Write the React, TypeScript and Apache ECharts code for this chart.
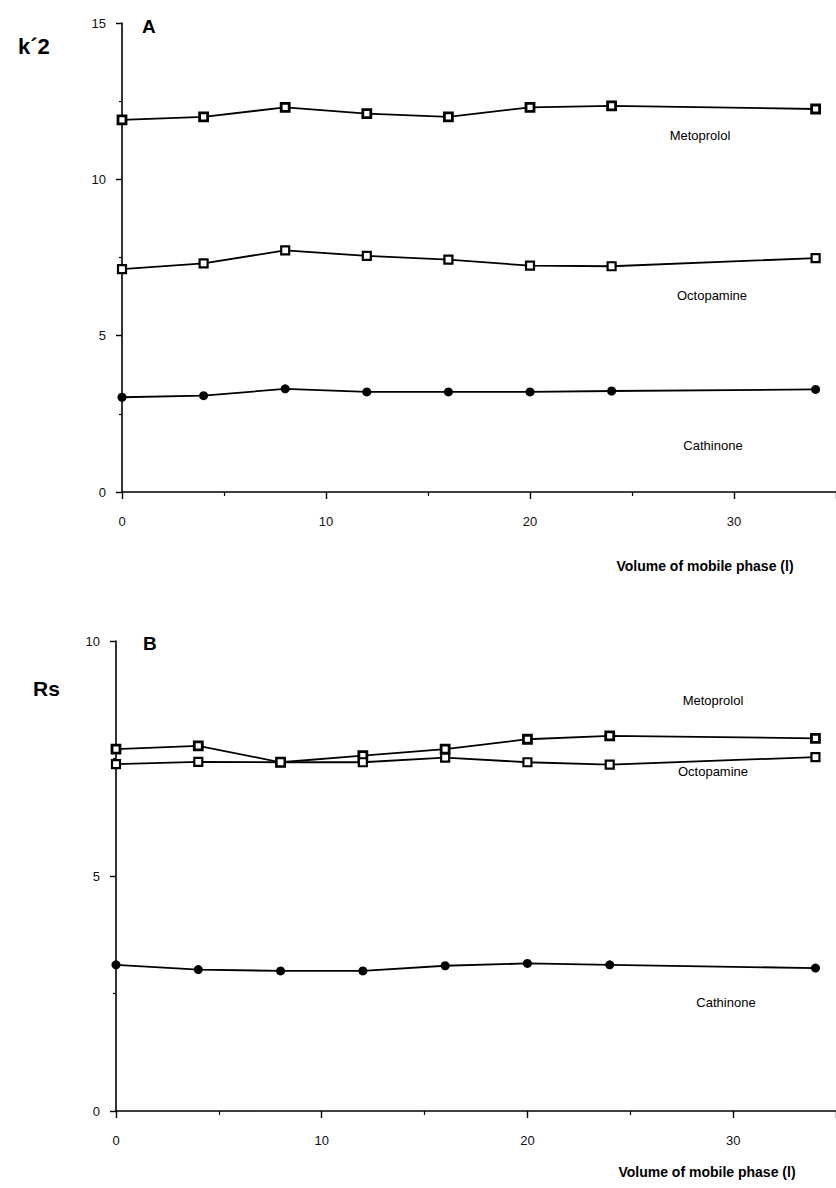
import React, { useEffect, useRef } from "react";
import * as echarts from "echarts";

const volumes = [0, 4, 8, 12, 16, 20, 24, 34];
const kMetoprolol = [11.9, 12.0, 12.3, 12.1, 12.0, 12.3, 12.35, 12.25];
const kOctopamine = [7.13, 7.31, 7.73, 7.55, 7.43, 7.24, 7.22, 7.48];
const kCathinone = [3.03, 3.08, 3.3, 3.2, 3.2, 3.2, 3.23, 3.28];
const rsMetoprolol = [7.7, 7.77, 7.42, 7.56, 7.7, 7.91, 7.98, 7.93];
const rsOctopamine = [7.38, 7.43, 7.42, 7.42, 7.52, 7.42, 7.37, 7.53];
const rsCathinone = [3.11, 3.01, 2.98, 2.98, 3.09, 3.14, 3.11, 3.04];

const FONT = "Liberation Sans, Arial, Helvetica, sans-serif";

function pairs(ys: number[]) {
  return volumes.map((x, i) => [x, ys[i]]);
}

export default function App() {
  const ref = useRef<HTMLDivElement>(null);
  useEffect(() => {
    if (!ref.current) return;
    const chart = echarts.init(ref.current, undefined, { renderer: "svg" });
    const xAxisBase = (gridIndex: number) => ({
      type: "value",
      gridIndex,
      min: 0,
      max: 35,
      interval: 10,
      axisLine: { show: true, onZero: false, lineStyle: { color: "#000", width: 1.6 } },
      axisTick: { show: true, length: 7, lineStyle: { color: "#000", width: 1.4 } },
      minorTick: { show: true, splitNumber: 2, length: 4, lineStyle: { color: "#000", width: 1.2 } },
      splitLine: { show: false },
      axisLabel: {
        color: "#111",
        fontFamily: FONT,
        fontSize: 13,
        margin: 23,
        showMaxLabel: false,
      },
    });
    const yAxisBase = (gridIndex: number, max: number, interval: number) => ({
      type: "value",
      gridIndex,
      min: 0,
      max,
      interval,
      axisLine: { show: true, onZero: false, lineStyle: { color: "#000", width: 1.6 } },
      axisTick: { show: true, length: 6, lineStyle: { color: "#000", width: 1.4 } },
      minorTick: { show: true, splitNumber: 2, length: 3, lineStyle: { color: "#000", width: 1.2 } },
      splitLine: { show: false },
      axisLabel: { color: "#111", fontFamily: FONT, fontSize: 13, margin: 16 },
    });
    const lineSeries = (
      name: string,
      xi: number,
      ys: number[],
      symbol: string,
      size: number,
      fill: string,
      bw: number
    ) => ({
      type: "line",
      name,
      xAxisIndex: xi,
      yAxisIndex: xi,
      data: pairs(ys),
      symbol,
      symbolSize: size,
      showAllSymbol: true,
      lineStyle: { color: "#000", width: 1.8 },
      itemStyle: { color: fill, borderColor: "#000", borderWidth: bw },
      z: 3,
    });
    const text = (
      t: string,
      x: number,
      y: number,
      size: number,
      weight: string = "normal",
      align: string = "center"
    ) => ({
      type: "text",
      x,
      y,
      style: {
        text: t,
        fontFamily: FONT,
        fontSize: size,
        fontWeight: weight,
        fill: "#000",
        align,
        verticalAlign: "middle",
      },
    });
    chart.setOption({
      animation: false,
      backgroundColor: "#fff",
      grid: [
        { left: 122, top: 23, width: 720, height: 469 },
        { left: 116, top: 641, width: 721, height: 470 },
      ],
      xAxis: [xAxisBase(0), xAxisBase(1)],
      yAxis: [yAxisBase(0, 15, 5), yAxisBase(1, 10, 5)],
      series: [
        lineSeries("Metoprolol", 0, kMetoprolol, "rect", 8, "#fff", 2.8),
        lineSeries("Octopamine", 0, kOctopamine, "rect", 8, "#fff", 2.2),
        lineSeries("Cathinone", 0, kCathinone, "circle", 9, "#000", 0),
        lineSeries("Metoprolol", 1, rsMetoprolol, "rect", 8, "#fff", 2.8),
        lineSeries("Octopamine", 1, rsOctopamine, "rect", 8, "#fff", 2.2),
        lineSeries("Cathinone", 1, rsCathinone, "circle", 9, "#000", 0),
      ],
      graphic: [
        text("k\u00B42", 18, 46, 22, "bold", "left"),
        text("A", 142, 26, 19, "bold", "left"),
        text("Metoprolol", 700, 135, 13),
        text("Octopamine", 712, 295, 13),
        text("Cathinone", 713, 445, 13),
        text("Volume of mobile phase (l)", 705, 566, 14, "bold"),
        text("Rs", 33, 688, 21, "bold", "left"),
        text("B", 143, 643, 19, "bold", "left"),
        text("Metoprolol", 713, 700, 13),
        text("Octopamine", 713, 771, 13),
        text("Cathinone", 726, 1002, 13),
        text("Volume of mobile phase (l)", 707, 1172, 14, "bold"),
      ],
    });
    return () => chart.dispose();
  }, []);
  return (
    <div
      ref={ref}
      style={{ position: "absolute", left: 0, top: 0, width: 836, height: 1188 }}
    />
  );
}
